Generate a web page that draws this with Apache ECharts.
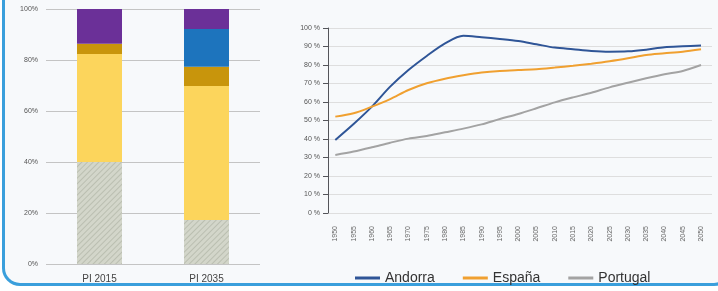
<!DOCTYPE html>
<html>
<head>
<meta charset="utf-8">
<script src="https://cdn.jsdelivr.net/npm/echarts@6/dist/echarts.min.js"></script>
<style>
  html, body { margin: 0; padding: 0; background: #fff; overflow: hidden; }
  #frame {
    position: absolute; left: 2px; top: -30px; width: 730px; height: 316px;
    border-left: 3px solid #3a9fdc; border-bottom: 3px solid #3a9fdc;
    border-right: 3px solid #3a9fdc; border-radius: 18px;
    background: #f7f9fb; box-sizing: border-box;
  }
  #chart { position: absolute; left: 0; top: 0; width: 718px; height: 291px; }
</style>
</head>
<body>
<div id="frame"></div>
<div id="chart"></div>
<script>
// left: stacked shares
const barCategories = ["PI 2015", "PI 2035"];
const greyShare = [40, 17.3];
const yellowShare = [42.4, 52.5];
const goldShare = [4, 7.6];
const blueShare = [0, 14.8];
const purpleShare = [13.6, 7.8];

// right: lines 1950-2050
const years = [1950, 1955, 1960, 1965, 1970, 1975, 1980, 1985, 1990, 1995, 2000,
  2005, 2010, 2015, 2020, 2025, 2030, 2035, 2040, 2045, 2050];
const andorra = [39.5, 48.1, 57.5, 68.3, 77.3, 84.9, 91.7, 95.8, 95.0, 94.1, 93.0,
  91.2, 89.4, 88.5, 87.6, 87.2, 87.4, 88.3, 89.6, 90.1, 90.5];
const espana = [52.1, 53.9, 57.5, 61.6, 66.5, 70.1, 72.6, 74.4, 75.9, 76.8, 77.3,
  77.7, 78.6, 79.6, 80.7, 82.0, 83.6, 85.4, 86.3, 87.2, 88.5];
const portugal = [31.4, 33.2, 35.5, 38.0, 40.2, 41.6, 43.6, 45.6, 47.9, 50.8, 53.5,
  56.6, 59.8, 62.5, 65.0, 67.9, 70.4, 72.8, 75.0, 76.8, 80.0];

const font = "Liberation Sans";
const myChart = echarts.init(document.getElementById("chart"));

function barSeries(name, data, color, extra) {
  return Object.assign({
    name: name, type: "bar", stack: "share", xAxisIndex: 0, yAxisIndex: 0,
    barWidth: 45, data: data, itemStyle: { color: color }
  }, extra || {});
}
function lineSeries(name, data, color) {
  return {
    name: name, type: "line", xAxisIndex: 1, yAxisIndex: 1, smooth: 0.3,
    symbol: "none", lineStyle: { color: color, width: 2 }, itemStyle: { color: color },
    data: years.map((y, i) => [y, data[i]])
  };
}

const option = {
  animation: false,
  textStyle: { fontFamily: font },
  grid: [
    { left: 46, width: 214, top: 9, bottom: 27 },
    { left: 328, right: 6, top: 28, bottom: 78 }
  ],
  legend: {
    data: ["Andorra", "España", "Portugal"],
    left: 350, top: 266, itemWidth: 25, itemHeight: 3, itemGap: 28,
    icon: "rect",
    textStyle: { fontSize: 14, color: "#333", fontFamily: font }
  },
  xAxis: [
    {
      gridIndex: 0, type: "category", data: barCategories,
      axisLine: { show: false }, axisTick: { show: false },
      axisLabel: { fontSize: 10, color: "#444", margin: 10 }
    },
    {
      gridIndex: 1, type: "value", min: 1948, max: 2053,
      axisLine: { show: false }, axisTick: { show: false }, splitLine: { show: false },
      axisLabel: {
        customValues: years, rotate: 90, fontSize: 7, color: "#666", margin: 13,
        formatter: (v) => String(v)
      }
    }
  ],
  yAxis: [
    {
      gridIndex: 0, type: "value", min: 0, max: 100, interval: 20,
      axisLabel: { fontSize: 7, color: "#555", margin: 8, formatter: "{value}%" },
      splitLine: { lineStyle: { color: "#c4c4c4" } }
    },
    {
      gridIndex: 1, type: "value", min: 0, max: 100, interval: 10,
      axisLabel: { fontSize: 7, color: "#555", margin: 8, formatter: "{value} %" },
      splitLine: { lineStyle: { color: "#dedede" } }
    }
  ],
  series: [
    barSeries("grey", greyShare, "#d3d6ca", {
      itemStyle: {
        color: "#d3d6ca",
        decal: {
          symbol: "rect", symbolSize: 1, color: "rgba(140,145,130,0.35)",
          dashArrayX: [1, 0], dashArrayY: [1, 3], rotation: -Math.PI / 4
        }
      }
    }),
    barSeries("yellow", yellowShare, "#fcd55c"),
    barSeries("gold", goldShare, "#c8950c"),
    barSeries("blue", blueShare, "#1d74bd"),
    barSeries("purple", purpleShare, "#6b3098"),
    lineSeries("Andorra", andorra, "#2f5597"),
    lineSeries("España", espana, "#f0a030"),
    lineSeries("Portugal", portugal, "#a3a3a3")
  ]
};
myChart.setOption(option);
</script>
</body>
</html>
